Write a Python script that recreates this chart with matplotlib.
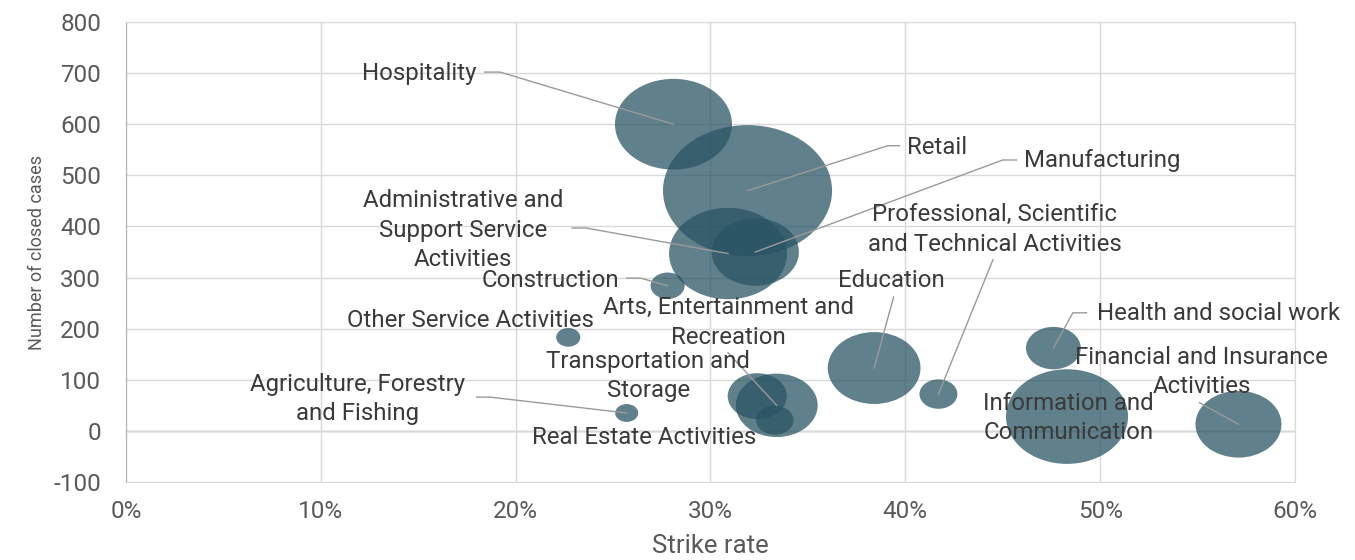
import numpy as np
import matplotlib
matplotlib.use("Agg")
import matplotlib.pyplot as plt
from matplotlib.path import Path
from matplotlib.transforms import Affine2D
from matplotlib.ticker import FuncFormatter

plt.rcParams["font.family"] = ["Roboto", "DejaVu Sans"]
plt.rcParams["axes.unicode_minus"] = False

# ---- data ----
sectors = [
    "Hospitality", "Retail", "Administrative and\nSupport Service\nActivities",
    "Manufacturing", "Construction", "Other Service Activities",
    "Agriculture, Forestry\nand Fishing", "Arts, Entertainment and\nRecreation",
    "Transportation and\nStorage", "Real Estate Activities", "Education",
    "Professional, Scientific\nand Technical Activities", "Health and social work",
    "Information and\nCommunication", "Financial and Insurance\nActivities",
]
strike_rate = [28.1, 31.9, 30.9, 32.3, 27.8, 22.7, 25.7, 33.4, 32.4, 33.3,
               38.4, 41.7, 47.6, 48.3, 57.1]
closed_cases = [600, 470, 347, 350, 284, 183, 35, 50, 68, 21,
                123, 72, 162, 28, 13]
bubble = [137, 286, 139, 76, 11.6, 5.8, 5.3, 67, 35, 14,
          86, 14.4, 30, 149, 74]

x_ticks = [0, 10, 20, 30, 40, 50, 60]
y_ticks = [-100, 0, 100, 200, 300, 400, 500, 600, 700, 800]

# label placement: (x, y, ha, leader points from bubble outwards)
labels = {
    0: (18.0, 700, "right", [(19.2, 702), (18.4, 702)]),
    1: (40.1, 554, "left", [(39.1, 558), (39.7, 558)]),
    2: (17.3, 393, "center", [(23.6, 397), (22.9, 397)]),
    3: (46.1, 530, "left", [(45.0, 530), (45.7, 530)]),
    4: (25.3, 294, "right", [(26.4, 299), (25.7, 299)]),
    5: (17.7, 215, "center", []),
    6: (11.9, 63, "center", [(18.7, 66), (18.0, 66)]),
    7: (30.9, 212, "center", [(30.9, 153)]),
    8: (26.8, 108, "center", []),
    9: (26.6, -12, "center", []),
    10: (39.3, 294, "center", [(39.4, 262)]),
    11: (44.6, 394, "center", [(44.5, 335)]),
    12: (49.85, 229, "left", [(48.6, 231), (49.3, 231)]),
    13: (44.0, 25, "left", []),
    14: (55.2, 115, "center", [(55.1, 55)]),
}

fig = plt.figure(figsize=(13.55, 5.6), dpi=100)
ax = fig.add_axes([0.093, 0.1393, 0.8627, 0.8214])

# Excel bubbles look stretched horizontally -> elliptical marker
ellipse = Path.unit_circle().transformed(Affine2D().scale(1.29, 1.0))
sizes = np.array(bubble) * 51.84
ax.scatter(strike_rate, closed_cases, s=sizes, marker=ellipse,
           color="#295464", alpha=0.74, linewidths=0, zorder=3)

for i, (tx, ty, ha, pts) in labels.items():
    if pts:
        xs = [strike_rate[i]] + [p[0] for p in pts]
        ys = [closed_cases[i]] + [p[1] for p in pts]
        ax.plot(xs, ys, color="#9a9a9a", lw=1.0, zorder=4)
    ax.text(tx, ty, sectors[i], ha=ha, va="center", fontsize=17.3,
            color="#3a3a3a", linespacing=1.35, zorder=5)

ax.set_xlim(0, 60)
ax.set_ylim(-100, 800)
ax.set_xticks(x_ticks)
ax.set_yticks(y_ticks)
ax.xaxis.set_major_formatter(FuncFormatter(lambda v, p: f"{v:.0f}%"))
ax.grid(True, color="#d9d9d9", lw=1.0, zorder=0)
ax.axhline(0, color="#a0a0a0", lw=1.0, zorder=1)
ax.tick_params(length=0, labelsize=17.5, labelcolor="#595959")
ax.tick_params(axis="y", pad=18)
ax.tick_params(axis="x", pad=13)
for side in ["top", "right", "bottom"]:
    ax.spines[side].set_color("#d9d9d9")
ax.spines["left"].set_color("#b0b0b0")

ax.set_xlabel("Strike rate", fontsize=18.5, color="#595959", labelpad=8)
ax.set_ylabel("Number of closed cases", fontsize=13, color="#595959",
              labelpad=5)

plt.savefig("out.png", dpi=100)
plt.close()
